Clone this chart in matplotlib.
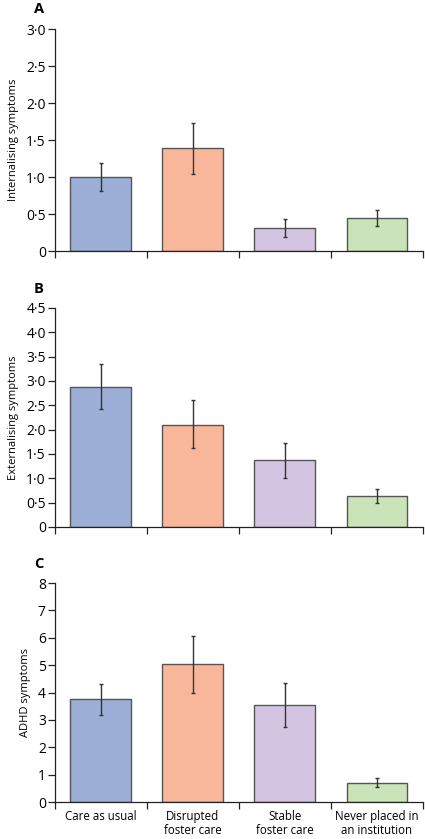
import matplotlib
matplotlib.use('Agg')

import numpy as np
import matplotlib.pyplot as plt

plt.rc('font', family='Open Sans', size=8)

# data
groups = ['Care as usual', 'Disrupted\nfoster care', 'Stable\nfoster care', 'Never placed in\nan institution']
colors = ['#9dafd6', '#f8b79b', '#d3c5e1', '#cae3b8']

internal_mean = [1.00, 1.39, 0.31, 0.45]
internal_lo = [0.81, 1.04, 0.19, 0.34]
internal_hi = [1.19, 1.73, 0.43, 0.56]

external_mean = [2.88, 2.10, 1.38, 0.64]
external_lo = [2.43, 1.63, 1.01, 0.50]
external_hi = [3.34, 2.60, 1.73, 0.79]

adhd_mean = [3.75, 5.04, 3.54, 0.69]
adhd_lo = [3.18, 3.98, 2.75, 0.54]
adhd_hi = [4.32, 6.08, 4.34, 0.86]

panels = [
    ('A', 'Internalising symptoms', internal_mean, internal_lo, internal_hi, np.arange(0, 3.01, 0.5), 3.0),
    ('B', 'Externalising symptoms', external_mean, external_lo, external_hi, np.arange(0, 4.51, 0.5), 4.5),
    ('C', 'ADHD symptoms', adhd_mean, adhd_lo, adhd_hi, np.arange(0, 8.01, 1), 8),
]
# axes rectangles in figure fraction (left, bottom, width, height)
rects = [
    (0.129, 0.7008, 0.866, 0.2646),
    (0.129, 0.3719, 0.866, 0.2610),
    (0.129, 0.0441, 0.866, 0.2610),
]

fig = plt.figure(figsize=(4.25, 8.39), dpi=100, facecolor='w')

for (letter, ylab, mean, lo, hi, ticks, ymax), rect in zip(panels, rects):
    ax = fig.add_axes(rect)
    x = np.arange(len(mean)) + 0.5
    mean = np.array(mean)
    err = np.vstack([mean - np.array(lo), np.array(hi) - mean])
    ax.bar(x, mean, width=0.66, color=colors, edgecolor='#555555', linewidth=1.0, zorder=2)
    ax.errorbar(x, mean, yerr=err, fmt='none', ecolor='#333333', elinewidth=1.0, capsize=1.5, capthick=1.0, zorder=3)
    ax.set_xlim(0, 4)
    ax.set_ylim(0, ymax)
    ax.set_yticks(ticks)
    if ymax == 8:
        ax.set_yticklabels(['%d' % t for t in ticks])
    else:
        ax.set_yticklabels(['0' if t == 0 else ('%.1f' % t).replace('.', '\u00b7') for t in ticks])
    ax.set_xticks([0, 1, 2, 3, 4])
    ax.set_xticklabels([])
    ax.tick_params(axis='x', direction='out', length=5, width=0.9, color='#222222')
    ax.tick_params(axis='y', direction='out', length=5, width=0.9, color='#222222', labelsize=10, pad=1.5)
    for s in ['top', 'right']:
        ax.spines[s].set_visible(False)
    for s in ['left', 'bottom']:
        ax.spines[s].set_linewidth(0.9)
        ax.spines[s].set_color('#222222')
    ax.set_ylabel(ylab, fontsize=8, labelpad=5)
    ax.text(-0.03, 1.088, letter, transform=ax.transAxes, fontsize=10.5, fontweight='bold', ha='right', va='center')
    if letter == 'C':
        for xi, g in zip(x, groups):
            ax.text(xi, -0.035, g, transform=ax.get_xaxis_transform(), ha='center', va='top', fontsize=8.3, linespacing=1.15)

fig.savefig('out.png', dpi=100, facecolor='w')
